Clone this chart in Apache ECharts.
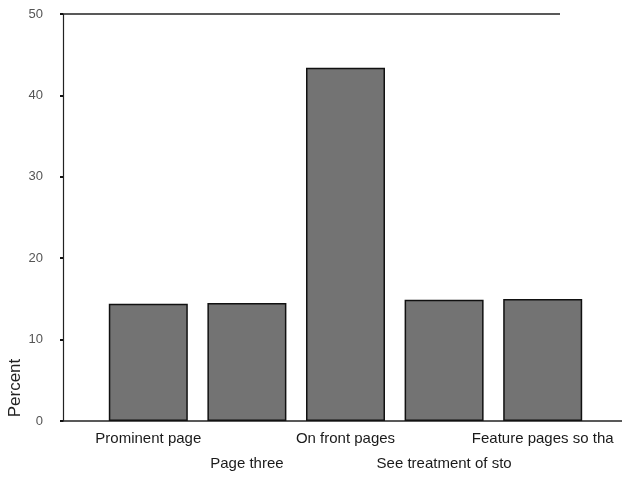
<!DOCTYPE html>
<html>
<head>
<meta charset="utf-8">
<script src="https://cdn.jsdelivr.net/npm/echarts@6/dist/echarts.min.js"></script>
<style>
  html, body { margin: 0; padding: 0; background: #fff; }
  #chart { width: 622px; height: 477px; }
</style>
</head>
<body>
<div id="chart"></div>
<script>
const categories = ['Prominent page', 'Page three', 'On front pages', 'See treatment of sto', 'Feature pages so tha'];
const percentValues = [14.4, 14.5, 43.4, 14.9, 15.0];
const yTicks = [0, 10, 20, 30, 40, 50];

const chart = echarts.init(document.getElementById('chart'));
chart.setOption({
  animation: false,
  grid: { left: 99, right: 30, top: 14, bottom: 56, outerBoundsMode: 'none' },
  xAxis: {
    type: 'category',
    data: categories,
    axisLine: { show: false },
    axisTick: { show: false },
    axisLabel: {
      interval: 0,
      margin: 5,
      fontFamily: 'Liberation Sans, Arial, sans-serif',
      fontSize: 15,
      color: '#1a1a1a',
      lineHeight: 25,
      formatter: (v, i) => (i % 2 === 1 ? '\n' + v : v),
    },
  },
  yAxis: {
    type: 'value',
    min: yTicks[0],
    max: yTicks[yTicks.length - 1],
    interval: 10,
    offset: 36,
    splitLine: { show: false },
    axisLine: { show: true, lineStyle: { color: '#222', width: 1.2 } },
    axisTick: { show: true, length: 3, lineStyle: { color: '#111', width: 2 } },
    axisLabel: {
      margin: 20,
      fontFamily: 'Liberation Sans, Arial, sans-serif',
      fontSize: 13,
      color: '#555',
    },
  },
  graphic: [
    // frame lines of the scanned plot
    { type: 'line', shape: { x1: 62, y1: 421, x2: 622, y2: 421 }, style: { stroke: '#222', lineWidth: 1.5 } },
    { type: 'line', shape: { x1: 62, y1: 14, x2: 560, y2: 14 }, style: { stroke: '#222', lineWidth: 1.5 } },
    {
      type: 'text',
      x: 15, y: 388,
      rotation: Math.PI / 2,
      style: {
        text: 'Percent',
        font: '17px "Liberation Sans", Arial, sans-serif',
        fill: '#222',
        textAlign: 'center',
        textVerticalAlign: 'middle',
      },
    },
  ],
  series: [
    {
      type: 'bar',
      data: percentValues,
      barWidth: 79,
      itemStyle: { color: '#737373', borderColor: '#111', borderWidth: 1.5 },
    },
  ],
});
</script>
</body>
</html>
